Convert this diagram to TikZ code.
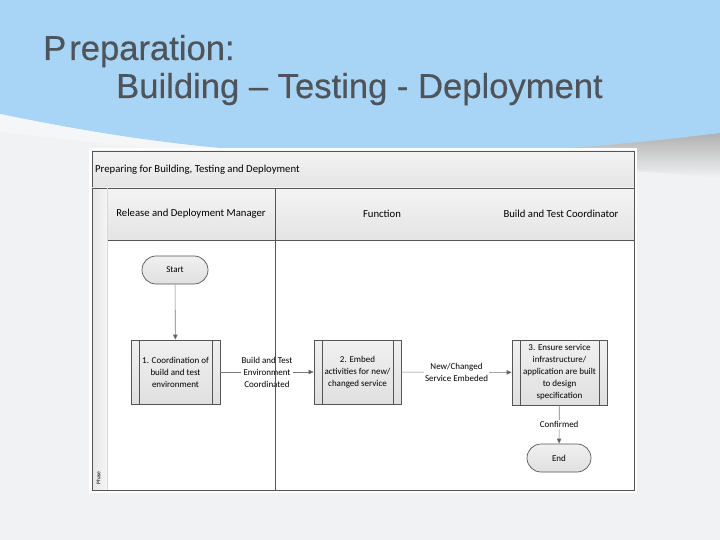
\documentclass[tikz,border=0pt]{standalone}
\usepackage{fontspec}
\setmainfont{Liberation Sans}
\newfontfamily\calib{Carlito}
\newfontfamily\headfont[FakeBold=0.4]{Liberation Sans}
\usetikzlibrary{arrows.meta,shapes.misc}
\definecolor{skyblue}{RGB}{168,212,245}
\definecolor{bgwhite}{RGB}{241,242,243}
\definecolor{titlegray}{RGB}{78,84,90}
\definecolor{linegray}{RGB}{85,85,85}
\definecolor{conngray}{RGB}{120,120,120}
\definecolor{boxtop}{RGB}{240,240,240}
\definecolor{boxbot}{RGB}{224,224,224}
\definecolor{hdrtop}{RGB}{244,244,244}
\definecolor{hdrbot}{RGB}{228,228,228}
\begin{document}
\begin{tikzpicture}[x=1pt,y=-1pt,
  proc/.style={draw=linegray, line width=0.7pt, top color=boxtop, bottom color=boxbot,
    inner sep=0pt, align=center, font=\calib\fontsize{9}{12}\selectfont,
    path picture={
      \draw[linegray, line width=0.7pt] ([xshift=8pt]path picture bounding box.north west) -- ([xshift=8pt]path picture bounding box.south west);
      \draw[linegray, line width=0.7pt] ([xshift=-8pt]path picture bounding box.north east) -- ([xshift=-8pt]path picture bounding box.south east);}},
  term/.style={rounded rectangle, draw=linegray, line width=0.7pt, top color=boxtop, bottom color=boxbot,
    minimum height=28pt, inner sep=0pt, font=\calib\fontsize{9}{12}\selectfont},
  conn/.style={draw=conngray, line width=0.6pt, -{Triangle[length=5pt,width=4.5pt,fill=linegray]}},
  lbl/.style={fill=white, inner sep=1pt, align=center, font=\calib\fontsize{9}{12}\selectfont},
  hdr/.style={font=\calib\fontsize{10.7}{12}\selectfont, inner sep=0pt},
  heading/.style={font=\headfont\fontsize{34.6}{38}\selectfont, text=titlegray, anchor=base west, inner sep=0pt}
]
\useasboundingbox (0,0) rectangle (720,540);
% background
\fill[bgwhite] (0,0) rectangle (720,540);
% shadow under the blue band
\shade[top color=black!35, bottom color=bgwhite]
  (380,150) .. controls (500,148) and (640,140) .. (720,126) -- (720,178)
  .. controls (640,170) and (500,162) .. (380,160) -- cycle;
% blue band
\fill[skyblue] (0,0) -- (720,0) -- (720,133)
  .. controls (600,148) and (460,158) .. (320,154)
  .. controls (180,150) and (70,128) .. (0,114) -- cycle;
\fill[white, opacity=0.35] (0,114) .. controls (70,128) and (180,150) .. (320,154)
  .. controls (200,158) and (80,140) .. (0,132) -- cycle;
% headings
\node[heading] (h1) at (43,60) {P\kern3pt reparation:};
\node[heading] (h2) at (116,98) {Building – Testing - Deployment};
% diagram frame
\fill[white] (89,148) rectangle (637,493);
% title bar
\shade[top color=hdrtop, bottom color=hdrbot, draw=linegray, line width=0.7pt] (92,151) rectangle (634,188);
\node[hdr, anchor=west] (ttl) at (95,170) {Preparing for Building, Testing and Deployment};
% header row
\shade[top color=hdrtop, bottom color=hdrbot] (107,188) rectangle (634,240);
% phase strip
\shade[left color=black!10, right color=black!4] (92,188) rectangle (107,490);
\node[rotate=90, font=\calib\fontsize{5.5}{6}\selectfont, inner sep=0pt] (phase) at (98.5,478) {Phase};
% lane frame lines
\draw[linegray, line width=0.7pt] (107,240) -- (634,240);
\draw[linegray, line width=0.7pt] (92,188) rectangle (634,490);
\draw[black!15, line width=0.6pt] (107,188) -- (107,490);
% lane headers
\node[hdr] (l1) at (191,214) {Release and Deployment Manager};
\node[hdr] (l2) at (382,214) {Function};
\node[hdr] (l3) at (561,214) {Build and Test Coordinator};
% nodes
\node[term, minimum width=66pt] (start) at (175,270) {Start};
\node[proc, minimum width=89pt, minimum height=64pt] (p1) at (175.5,372) {1. Coordination of\\build and test\\environment};
\node[proc, minimum width=87pt, minimum height=64pt] (p2) at (357.5,372) {2. Embed\\activities for new/\\changed service};
\node[proc, minimum width=95pt, minimum height=65pt] (p3) at (559.5,372.5) {3. Ensure service\\infrastructure/\\application are built\\to design\\specification};
\node[term, minimum width=64pt] (end) at (559,458) {End};
% connectors
\draw[conn] (start) -- (p1);
\draw[conn] (p1) -- node[lbl] (c1) {Build and Test\\Environment\\Coordinated} (p2);
\draw[conn] (p2) -- node[lbl] (c2) {New/Changed\\Service Embeded} (p3);
\draw[conn] (p3) -- node[lbl] (c3) {Confirmed} (end);
% lane divider
\coordinate (dtop) at (275,188);
\coordinate (dbot) at (275,490);
\draw[linegray, line width=0.7pt] (dtop) -- (dbot);
\end{tikzpicture}
\end{document}
